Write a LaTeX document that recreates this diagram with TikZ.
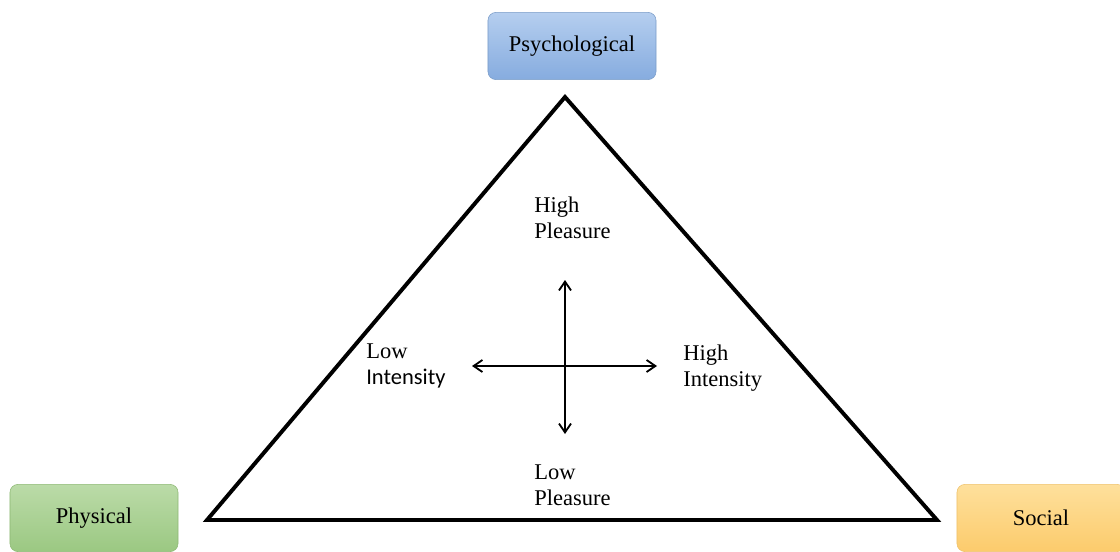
\documentclass[tikz,border=0pt]{standalone}
\usepackage{fontspec}
\setmainfont{Liberation Serif}
\newfontfamily\intsans{Carlito}
\usetikzlibrary{arrows.meta}
\definecolor{psytop}{HTML}{B5CEEF}
\definecolor{psybot}{HTML}{86ACDF}
\definecolor{psyline}{HTML}{7A9CC8}
\definecolor{phytop}{HTML}{BBDBA8}
\definecolor{phybot}{HTML}{9BC882}
\definecolor{phyline}{HTML}{8DB874}
\definecolor{soctop}{HTML}{FEE09C}
\definecolor{socbot}{HTML}{FCCB6C}
\definecolor{socline}{HTML}{EFC26C}
\begin{document}
\begin{tikzpicture}[x=0.025cm,y=-0.025cm,>={Straight Barb[length=2.2mm,width=3mm]},
  corner/.style={rounded corners=0.2cm,minimum width=4.2cm,minimum height=1.68cm,
    font=\fontsize{16}{18.5}\selectfont},
  lbl/.style={anchor=north west,inner sep=0pt,align=left,
    font=\fontsize{16}{18.5}\selectfont}]
\useasboundingbox (0,0) rectangle (1120,552);
\node[corner,draw=psyline,top color=psytop,bottom color=psybot] (psy) at (572,46) {Psychological};
\node[corner,draw=phyline,top color=phytop,bottom color=phybot] (phy) at (94,518) {Physical};
\node[corner,draw=socline,top color=soctop,bottom color=socbot] (soc) at (1041,518) {Social};
\coordinate (top) at (565,97);
\coordinate (left) at (207,520);
\coordinate (right) at (937,520);
\draw[line width=2.8pt,line join=miter] (top) -- (right) -- (left) -- cycle;
% axes
\coordinate (up) at (565,280);
\coordinate (down) at (565,434);
\coordinate (west) at (472,366);
\coordinate (east) at (657,366);
\draw[<->,line width=1.3pt] (down) -- (up);
\draw[<->,line width=1.3pt] (west) -- (east);
\node[lbl] (hp) at (534,197) {High\\Pleasure};
\node[lbl] (lp) at (534,464) {Low\\Pleasure};
\node[lbl] (li) at (366,343) {Low\\{\intsans Intensity}};
\node[lbl] (hi) at (683,345) {High\\Intensity};
\end{tikzpicture}
\end{document}
